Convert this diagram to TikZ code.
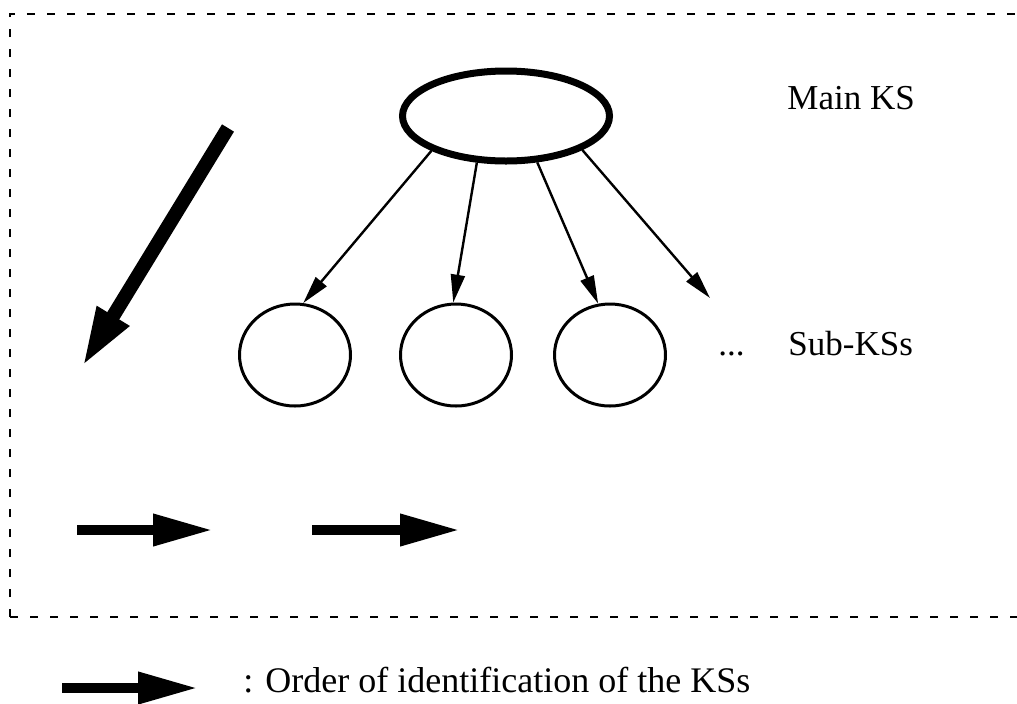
\documentclass[tikz,border=0pt]{standalone}
\usepackage{fontspec}
\setmainfont{Liberation Serif}
\usetikzlibrary{shapes.geometric,arrows.meta}
\begin{document}
\begin{tikzpicture}[x=0.5pt,y=-0.5pt,
  lbl/.style={font=\fontsize{17.5}{20}\selectfont, inner sep=0pt, anchor=base west},
  subks/.style={ellipse, draw, line width=1.5pt, minimum width=55.5pt, minimum height=51pt, inner sep=0pt},
  thinarrow/.style={line width=1.2pt, -{Triangle[length=14pt,width=7pt]}},
  fatarrow/.style={line width=5pt, -{Triangle[length=30pt,width=15pt]}},
  bigarrow/.style={line width=7pt, -{Triangle[length=30pt,width=17pt]}},
  frame/.style={line width=1.3pt, dash pattern=on 4pt off 6pt}]
\useasboundingbox (0,0) rectangle (1017,703);
% dashed frame (right side outside the picture)
\coordinate (fbr) at (1017,617);
\coordinate (fbl) at (10,617);
\coordinate (ftl) at (10,14);
\coordinate (ftr) at (1017,14);
\draw[frame] (fbl) -- (ftl) -- (ftr);
\draw[frame] (fbl) -- (fbr);
% main KS
\node[ellipse, draw, line width=3.5pt, minimum width=103.5pt, minimum height=45pt, inner sep=0pt] (main) at (506,116) {};
% sub KSs
\node[subks] (c1) at (295,355) {};
\node[subks] (c2) at (456,355) {};
\node[subks] (c3) at (610,355) {};
\coordinate (e4) at (710,298);
\draw[thinarrow] (main.205) -- (c1.81);
\draw[thinarrow] (main.238) -- (c2.93);
\draw[thinarrow] (main.304) -- (c3.103);
\draw[thinarrow] (main.336) -- (e4);
% labels
\node[lbl] (mainlbl) at (787,109) {Main KS};
\node[lbl] (sublbl) at (788,355) {Sub-KSs};
\node[lbl] (dots) at (718,355) {...};
% big order arrows
\coordinate (d1) at (228,128);
\coordinate (d2) at (82,367);
\draw[bigarrow] (d1) -- (d2);
\coordinate (h1a) at (77,530);
\coordinate (h1b) at (213,530);
\coordinate (h2a) at (312,530);
\coordinate (h2b) at (460,530);
\draw[fatarrow] (h1a) -- (h1b);
\draw[fatarrow] (h2a) -- (h2b);
% legend
\coordinate (la) at (62,688);
\coordinate (lb) at (198,688);
\draw[fatarrow] (la) -- (lb);
\node[lbl, font=\fontsize{18}{21}\selectfont] (legend) at (243,692) {: Order of identification of the KSs};
\end{tikzpicture}
\end{document}
